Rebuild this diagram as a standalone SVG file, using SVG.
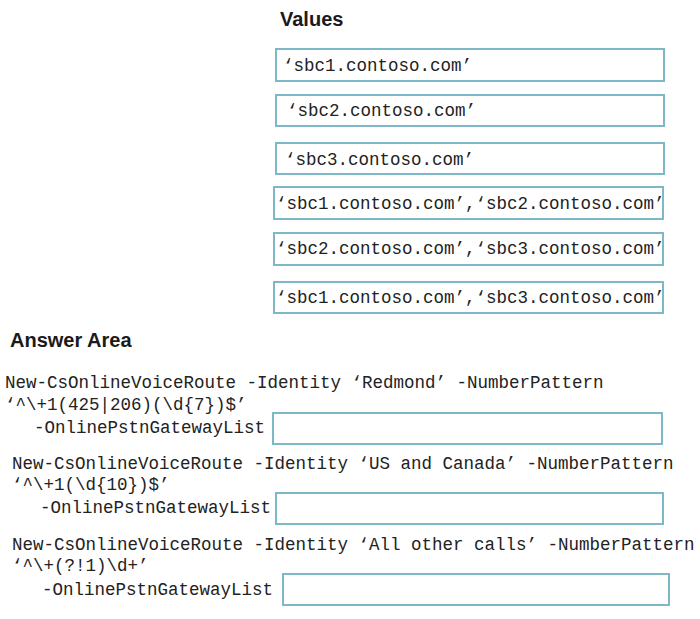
<svg xmlns="http://www.w3.org/2000/svg" width="700" height="619" viewBox="0 0 700 619">
<style>
.bg{fill:#ffffff}
.box{fill:#ffffff;stroke:#7cb8c8;stroke-width:2}
.h{font-family:"Liberation Sans",Arial,sans-serif;font-weight:bold;font-size:20px;fill:#1a1a1a}
.m{font-family:"Liberation Mono","Courier New",monospace;font-size:17.5px;fill:#222222}
</style>
<rect class="bg" x="0" y="0" width="700" height="619"/>
<text class="h" x="280" y="26">Values</text>
<g id="value1"><rect class="box" x="276" y="49" width="388" height="32"/><text class="m" x="283" y="71">‘sbc1.contoso.com’</text></g>
<g id="value2"><rect class="box" x="276" y="95" width="388" height="31"/><text class="m" x="287" y="116">‘sbc2.contoso.com’</text></g>
<g id="value3"><rect class="box" x="276" y="143" width="388" height="31"/><text class="m" x="285" y="165">‘sbc3.contoso.com’</text></g>
<g id="value4"><rect class="box" x="274" y="187" width="389" height="32"/><text class="m" x="276" y="209">‘sbc1.contoso.com’,‘sbc2.contoso.com’</text></g>
<g id="value5"><rect class="box" x="274" y="233" width="389" height="32"/><text class="m" x="276" y="254">‘sbc2.contoso.com’,‘sbc3.contoso.com’</text></g>
<g id="value6"><rect class="box" x="274" y="282" width="389" height="31"/><text class="m" x="276" y="303">‘sbc1.contoso.com’,‘sbc3.contoso.com’</text></g>
<text class="h" x="10" y="347">Answer Area</text>
<g id="route1">
<text class="m" x="5" y="388">New-CsOnlineVoiceRoute -Identity ‘Redmond’ -NumberPattern</text>
<text class="m" x="5" y="410">‘^\+1(425|206)(\d{7})$’</text>
<text class="m" x="34" y="433">-OnlinePstnGatewayList</text>
<rect class="box" x="273" y="413" width="389" height="31"/>
</g>
<g id="route2">
<text class="m" x="12" y="469">New-CsOnlineVoiceRoute -Identity ‘US and Canada’ -NumberPattern</text>
<text class="m" x="12" y="490">‘^\+1(\d{10})$’</text>
<text class="m" x="40" y="513">-OnlinePstnGatewayList</text>
<rect class="box" x="276" y="493" width="387" height="31"/>
</g>
<g id="route3">
<text class="m" x="12" y="550">New-CsOnlineVoiceRoute -Identity ‘All other calls’ -NumberPattern</text>
<text class="m" x="12" y="571">‘^\+(?!1)\d+’</text>
<text class="m" x="42" y="595">-OnlinePstnGatewayList</text>
<rect class="box" x="283" y="574" width="386" height="31"/>
</g>
<g id="connectors"></g>
</svg>
